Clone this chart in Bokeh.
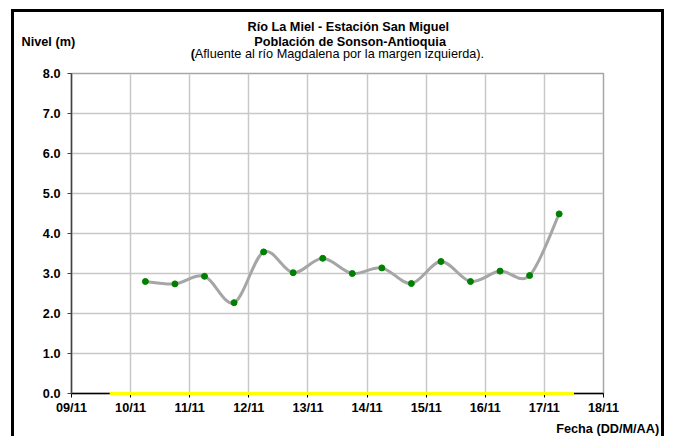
from datetime import datetime
import numpy as np
from bokeh.plotting import figure
from bokeh.models import (DatetimeTickFormatter, DaysTicker, Range1d,
                          NumeralTickFormatter, FixedTicker, ColumnDataSource)
from bokeh.core.properties import value
from bokeh.embed import file_html
from bokeh.resources import INLINE

# ---------------- data ----------------
times = [
    "2010-11-10 06:00", "2010-11-10 18:00",
    "2010-11-11 06:00", "2010-11-11 18:00",
    "2010-11-12 06:00", "2010-11-12 18:00",
    "2010-11-13 06:00", "2010-11-13 18:00",
    "2010-11-14 06:00", "2010-11-14 18:00",
    "2010-11-15 06:00", "2010-11-15 18:00",
    "2010-11-16 06:00", "2010-11-16 18:00",
    "2010-11-17 06:00",
]
nivel = [2.80, 2.74, 2.93, 2.27, 3.54, 3.02, 3.38, 3.00, 3.14, 2.75,
         3.30, 2.80, 3.06, 2.95, 4.49]

umbral_times = ["2010-11-09 15:30", "2010-11-17 12:00"]
umbral = [0.0, 0.0]

x_start = "2010-11-09 00:00"
x_end = "2010-11-18 00:00"
y_ticks = [0, 1, 2, 3, 4, 5, 6, 7, 8]

title_1 = "Río La Miel  - Estación San Miguel"
title_2 = "Población de Sonson-Antioquia"
title_3a = "("
title_3b = "Afluente al río Magdalena por la margen izquierda)."
y_label = "Nivel (m)"
x_label = "Fecha (DD/M/AA)"

# ---------------- helpers ----------------
def to_ms(s):
    return datetime.strptime(s, "%Y-%m-%d %H:%M").timestamp() * 1000.0

xs = np.array([to_ms(t) for t in times])
ys = np.array(nivel)

# smoothed line (Catmull-Rom style bezier segments, like Excel's smoothing)
n = len(xs)
xp = np.concatenate([[xs[0]], xs, [xs[-1]]])
yp = np.concatenate([[ys[0]], ys, [ys[-1]]])
seg = dict(x0=[], y0=[], x1=[], y1=[], cx0=[], cy0=[], cx1=[], cy1=[])
for i in range(n - 1):
    a, b, c, d = i, i + 1, i + 2, i + 3
    seg["x0"].append(xp[b]); seg["y0"].append(yp[b])
    seg["x1"].append(xp[c]); seg["y1"].append(yp[c])
    seg["cx0"].append(xp[b] + (xp[c] - xp[a]) / 6.0)
    seg["cy0"].append(yp[b] + (yp[c] - yp[a]) / 6.0)
    seg["cx1"].append(xp[c] - (xp[d] - xp[b]) / 6.0)
    seg["cy1"].append(yp[c] - (yp[d] - yp[b]) / 6.0)

FONT = "Liberation Sans"
FS = "12.7px"

p = figure(width=653, height=427, output_backend="svg", toolbar_location=None,
           x_axis_type="datetime",
           x_range=Range1d(to_ms(x_start), to_ms(x_end)),
           y_range=Range1d(0, 8),
           min_border_left=57, min_border_right=64,
           min_border_top=61, min_border_bottom=46)
p.styles = {"border-left": "3px solid black", "border-right": "3px solid black",
            "border-top": "3px solid black", "position": "relative",
            "left": "11px", "top": "9px"}
p.background_fill_color = "white"
p.border_fill_color = "white"
p.outline_line_color = "#a6a6a6"
p.outline_line_width = 1.5

# grids
for g in (p.xgrid, p.ygrid):
    g.grid_line_color = "#c8c8c8"
    g.grid_line_width = 1.5

# axes
p.xaxis.ticker = DaysTicker(days=list(range(1, 32)))
p.xaxis.formatter = DatetimeTickFormatter(days="%d/%m", months="%d/%m")
p.yaxis.ticker = FixedTicker(ticks=y_ticks)
p.yaxis.formatter = NumeralTickFormatter(format="0.0")
p.xgrid.ticker = p.xaxis.ticker
p.ygrid.ticker = p.yaxis.ticker
for ax in (p.xaxis[0], p.yaxis[0]):
    ax.major_label_text_font = FONT
    ax.major_label_text_font_size = FS
    ax.major_label_text_font_style = "bold"
    ax.major_label_text_color = "black"
    ax.major_tick_in = 0
    ax.major_tick_out = 4
    ax.minor_tick_in = 0
    ax.minor_tick_out = 0
    ax.axis_line_width = 1.5
p.xaxis.axis_line_color = "black"
p.xaxis.major_tick_line_color = "black"
p.yaxis.axis_line_color = "#404040"
p.yaxis.major_tick_line_color = "#404040"
p.xaxis.major_label_standoff = 3
p.yaxis.major_label_standoff = 7

# series
p.line([to_ms(t) for t in umbral_times], umbral, line_color="#ffff00",
       line_width=3, level="overlay")
p.bezier(source=ColumnDataSource(seg), x0="x0", y0="y0", x1="x1", y1="y1",
         cx0="cx0", cy0="cy0", cx1="cx1", cy1="cy1",
         line_color="#a6a6a6", line_width=3)
p.scatter(xs, ys, size=6, fill_color="#008000", line_color="#008000")

# texts outside the frame: text glyphs on the overlay level (not clipped)
day = 86400000.0
x0 = to_ms(x_start)

def lab(text, xd, y, align, bold=True):
    p.text(x=[x0 + (xd - 9.0) * day], y=[y], text=[text],
           text_align=align, text_baseline="middle",
           text_font=value(FONT), text_font_size=value(FS),
           text_font_style="bold" if bold else "normal",
           text_color="black", level="overlay")

lab(title_1, 13.713, 9.16, "center")
lab(title_2, 13.713, 8.80, "center")
lab(title_3a, 11.016, 8.48, "left")
lab(title_3b, 11.087, 8.48, "left", bold=False)
lab(y_label, 8.155, 8.80, "left")
lab(x_label, 18.941, -0.882, "right")

open("out.html", "w").write(file_html(p, INLINE))
